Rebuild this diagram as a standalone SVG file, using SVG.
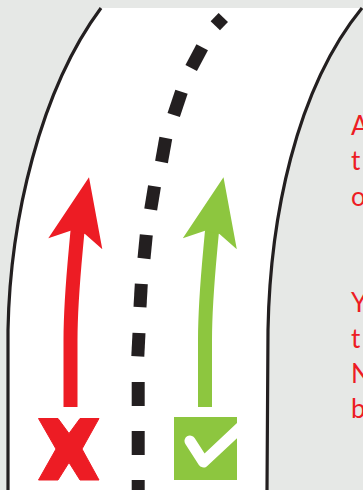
<svg xmlns="http://www.w3.org/2000/svg" width="363" height="490" viewBox="0 0 363 490">
<style>
.edge{fill:none;stroke:#231f20;stroke-width:3.2}
.dash{stroke:#231f20;stroke-width:13;stroke-linecap:butt}
.txt{font-family:Lato,"Open Sans",sans-serif;font-size:26px;fill:#ed1c24}
</style>
<defs>
<clipPath id="boxclip"><rect x="174" y="417" width="63" height="63"/></clipPath>
</defs>
<rect width="363" height="490" fill="#e6e8e6"/>
<g id="road">
<path d="M101,8 L362,8 C295,90 270,220 268,330 L267,490 L8,490 L8,330 C10,220 40,90 101,8 Z" fill="#ffffff"/>
<path class="edge" d="M101,8 C40,90 10,220 8,330 L8,490"/>
<path class="edge" d="M362,8 C295,90 270,220 268,330 L267,490"/>
</g>
<g id="centerline">
<line class="dash" x1="223.3" y1="17.5" x2="215.3" y2="25.8"/>
<line class="dash" x1="202.2" y1="47.3" x2="191.2" y2="68"/>
<line class="dash" x1="181.5" y1="91.7" x2="173.7" y2="115"/>
<line class="dash" x1="165.8" y1="138" x2="161.5" y2="162"/>
<line class="dash" x1="154.5" y1="186.2" x2="150.7" y2="209.5"/>
<line class="dash" x1="146.3" y1="234.8" x2="144" y2="258.5"/>
<line class="dash" x1="141.3" y1="283.8" x2="140" y2="307.2"/>
<line class="dash" x1="139" y1="333" x2="137.8" y2="356.3"/>
<line class="dash" x1="138.2" y1="382" x2="138.2" y2="406"/>
<line class="dash" x1="138.2" y1="431" x2="138.2" y2="455"/>
<line class="dash" x1="138.2" y1="480" x2="138.2" y2="492"/>
</g>
<g id="red-arrow">
<path d="M70.5,407 L70.5,340 C70.5,300 74,270 77.5,231" fill="none" stroke="#ed1c24" stroke-width="14"/>
<polygon points="89,177.3 102.3,249.3 85,234 70.5,230.7 48.3,238.3" fill="#ed1c24"/>
</g>
<g id="green-arrow">
<path d="M205,407 L205,340 C205,300 208.5,270 212,231" fill="none" stroke="#8dc63f" stroke-width="14"/>
<polygon points="223.5,177.3 236.8,249.3 219.5,234 205,230.7 182.8,238.3" fill="#8dc63f"/>
</g>
<g id="cross">
<polygon points="38.5,418.5 58,418.5 69,433.5 80,418.5 99,418.5 82,449 99,480 80,480 69,462.5 58,480 38.5,480 56,449" fill="#ed1c24" stroke="#ed1c24" stroke-width="1" stroke-linejoin="round"/>
</g>
<g id="check">
<rect x="174" y="417" width="63" height="63" fill="#8dc63f"/>
<path d="M190,441 L203.5,462 L243,425" fill="none" stroke="#ffffff" stroke-width="11" stroke-linecap="round" stroke-linejoin="round" clip-path="url(#boxclip)"/>
</g>
<g id="labels">
<text class="txt" x="351" y="135">A</text>
<text class="txt" x="351" y="170">t</text>
<text class="txt" x="351" y="206">o</text>
<text class="txt" x="351" y="312">Y</text>
<text class="txt" x="351" y="348">t</text>
<text class="txt" x="351" y="383">N</text>
<text class="txt" x="351" y="418">b</text>
</g>
</svg>
